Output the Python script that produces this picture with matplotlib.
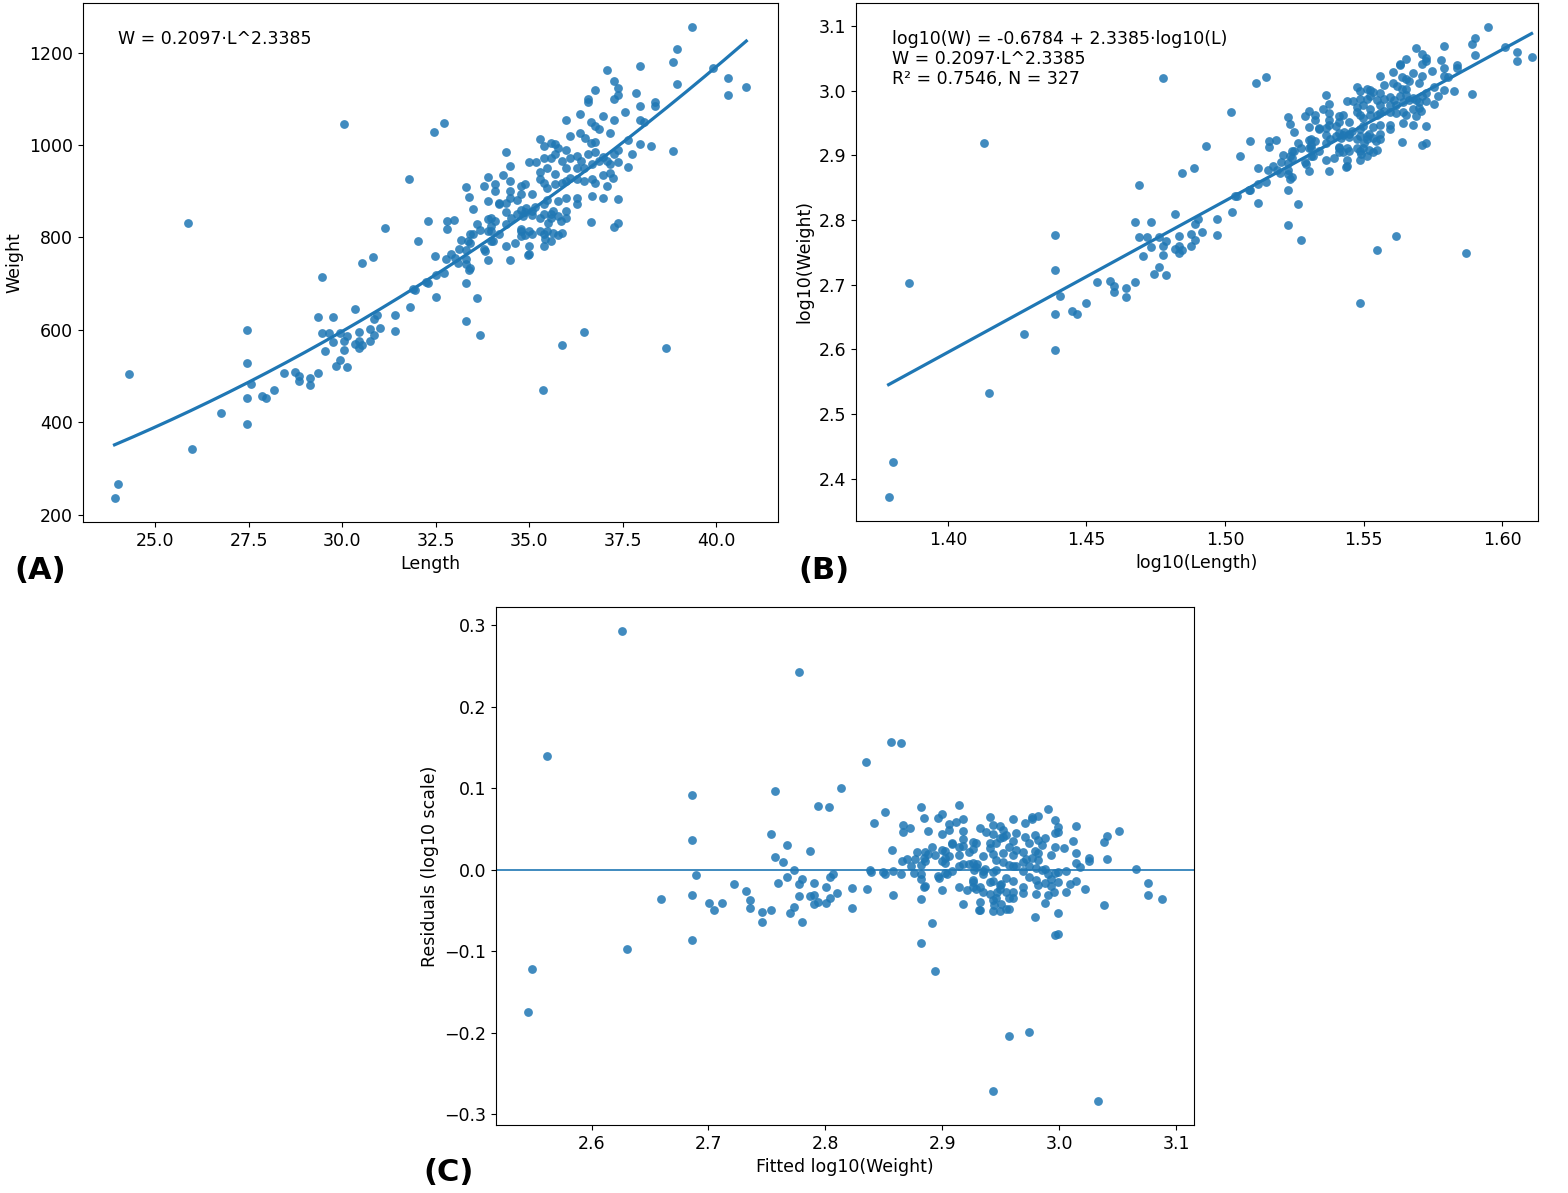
import matplotlib
matplotlib.use("Agg")
import matplotlib.pyplot as plt
import numpy as np

# length / weight pairs
length = [23.91, 23.99, 24.31, 25.88, 25.99, 26.76, 27.45, 27.45, 27.45, 27.45,
          27.56, 27.85, 27.96, 28.17, 28.44, 28.73, 28.84, 28.84, 29.13, 29.13,
          29.34, 29.34, 29.45, 29.45, 29.64, 29.74, 29.53, 29.74, 29.93, 30.04,
          30.04, 29.93, 29.82, 30.12, 30.12, 30.33, 30.33, 30.44, 30.44, 30.44,
          30.52, 30.73, 30.73, 30.84, 30.84, 30.92, 31.02, 31.42, 31.42, 31.82,
          31.93, 32.25, 30.52, 30.81, 30.04, 31.79, 31.13, 32.01, 32.30, 32.49,
          32.30, 32.51, 31.90, 32.46, 32.73, 32.73, 32.51, 33.31, 33.39, 33.31,
          33.10, 33.61, 33.31, 33.69, 35.87, 36.46, 35.37, 38.64, 33.90, 34.49,
          39.34, 38.94, 38.83, 39.92, 40.32, 40.80, 40.32, 38.94, 37.95, 37.07,
          37.26, 37.36, 37.36, 37.26, 36.75, 36.56, 36.56, 37.84, 38.35, 38.35,
          37.95, 37.55, 37.95, 38.06, 37.26, 36.96, 36.35, 35.98, 36.64, 36.75,
          36.86, 37.15, 37.63, 37.95, 38.24, 38.83, 37.74, 37.63, 37.36, 37.36,
          37.26, 36.08, 35.29, 35.39, 35.68, 35.98, 36.35, 36.48, 36.64, 36.75,
          34.38, 34.49, 35.00, 35.18, 35.39, 35.58, 35.68, 35.87, 36.08, 36.27,
          36.38, 36.56, 36.75, 36.96, 37.07, 37.15, 36.86, 36.67, 36.46, 36.27,
          35.98, 35.68, 35.47, 35.29, 33.90, 34.30, 34.49, 34.09, 33.79, 33.31,
          33.39, 34.09, 33.90, 33.50, 34.19, 34.38, 34.49, 34.67, 34.78, 34.89,
          34.78, 35.07, 35.29, 35.39, 35.47, 35.68, 35.87, 35.98, 36.08, 36.27,
          36.46, 36.67, 36.75, 36.96, 37.15, 37.23, 37.07, 36.67, 36.96, 37.36,
          35.98, 36.27, 36.27, 35.76, 35.47, 35.39, 35.07, 34.89, 34.78, 34.67,
          35.07, 35.39, 35.58, 35.76, 35.98, 35.98, 35.58, 35.29, 36.64, 37.36,
          37.26, 34.38, 34.19, 33.90, 33.98, 34.09, 33.90, 33.98, 34.19, 33.61,
          33.50, 32.81, 32.99, 32.81, 32.91, 33.18, 33.42, 33.31, 33.13, 33.02,
          33.42, 33.79, 33.98, 34.38, 34.62, 34.78, 34.89, 35.00, 35.07, 35.00,
          35.00, 35.29, 35.39, 35.47, 35.39, 35.58, 35.76, 35.87, 33.31, 33.42,
          32.78, 33.37, 33.82, 34.03, 34.97, 34.78, 35.42, 34.49, 35.15, 34.91,
          34.83, 34.51, 34.38, 33.98, 33.69, 34.78, 35.50, 35.85, 35.63, 35.63,
          35.58, 35.76]

weight = [235, 267, 504, 831, 341, 421, 599, 528, 452, 397,
          482, 456, 452, 469, 506, 508, 499, 489, 495, 480,
          506, 627, 714, 593, 593, 627, 554, 573, 593, 575,
          556, 534, 521, 519, 586, 645, 569, 595, 575, 560,
          567, 601, 575, 588, 623, 632, 604, 632, 597, 649,
          686, 703, 745, 758, 1046, 927, 820, 792, 836, 760,
          701, 718, 688, 1029, 1048, 723, 671, 701, 729, 742,
          745, 669, 619, 588, 567, 595, 469, 560, 751, 751,
          1256, 1207, 1180, 1167, 1146, 1126, 1109, 1133, 1170, 1163,
          1139, 1124, 1109, 1100, 1118, 1100, 1094, 1113, 1094, 1085,
          1085, 1072, 1055, 1050, 1055, 1063, 1068, 1055, 1050, 1042,
          1035, 1026, 1011, 1003, 998, 987, 981, 953, 964, 990,
          981, 1020, 1013, 998, 1003, 990, 1026, 1016, 1005, 1007,
          985, 955, 964, 964, 972, 972, 981, 966, 972, 977,
          966, 981, 985, 974, 966, 959, 966, 959, 951, 951,
          951, 938, 951, 942, 931, 935, 922, 916, 912, 909,
          888, 901, 879, 862, 875, 875, 885, 881, 912, 916,
          894, 894, 927, 918, 907, 916, 918, 922, 929, 927,
          922, 927, 918, 935, 940, 929, 912, 890, 885, 883,
          885, 885, 872, 879, 881, 872, 857, 855, 859, 851,
          849, 851, 851, 846, 857, 842, 842, 842, 833, 831,
          823, 855, 872, 840, 842, 836, 814, 814, 807, 829,
          807, 836, 838, 818, 764, 794, 788, 773, 775, 755,
          807, 775, 792, 781, 788, 814, 805, 814, 807, 781,
          764, 814, 807, 814, 781, 792, 805, 810, 753, 734,
          753, 792, 771, 792, 762, 803, 797, 901, 866, 864,
          846, 842, 829, 825, 816, 818, 831, 836, 857, 810,
          1005, 994]

# fit reported on the chart
intercept = -0.6784
slope = 2.3385
r2 = 0.7546
n_fish = 327

logL = np.log10(length)
logW = np.log10(weight)
fitted = intercept + slope * logL
resid = logW - fitted
a = 10 ** intercept

blue = '#1f77b4'
plt.rcParams['font.size'] = 12.5

fig = plt.figure(figsize=(15.68, 11.93), dpi=100)

# (A) raw length-weight
axA = fig.add_axes([0.0529, 0.5624, 0.4432, 0.435])
axA.scatter(length, weight, s=40, color=blue, alpha=0.85, linewidths=0)
Lgrid = np.linspace(min(length), max(length), 200)
axA.plot(Lgrid, a * Lgrid ** slope, color=blue, lw=2.3)
axA.set_xlabel("Length")
axA.set_ylabel("Weight")
axA.text(0.05, 0.949, "W = %.4f\u00b7L^%.4f" % (a, slope),
         transform=axA.transAxes, va='top')

# (B) log-log
axB = fig.add_axes([0.5459, 0.5633, 0.435, 0.4342])
axB.scatter(logL, logW, s=40, color=blue, alpha=0.85, linewidths=0)
xg = np.linspace(logL.min(), logL.max(), 100)
axB.plot(xg, intercept + slope * xg, color=blue, lw=2.3)
axB.set_xlim(1.3668, 1.613)
axB.set_xlabel("log10(Length)")
axB.set_ylabel("log10(Weight)")
txt = ("log10(W) = %.4f + %.4f\u00b7log10(L)\n" % (intercept, slope) +
       "W = %.4f\u00b7L^%.4f\n" % (a, slope) +
       "R\u00b2 = %.4f, N = %d" % (r2, n_fish))
axB.text(0.053, 0.948, txt, transform=axB.transAxes, va='top', linespacing=1.15)

# (C) residuals
axC = fig.add_axes([0.3163, 0.0570, 0.4452, 0.4342])
axC.scatter(fitted, resid, s=40, color=blue, alpha=0.85, linewidths=0)
axC.axhline(0, color=blue, lw=1.2)
axC.set_xlabel("Fitted log10(Weight)")
axC.set_ylabel("Residuals (log10 scale)")

# panel tags
fig.text(0.009, 0.522, "(A)", fontsize=22, fontweight='bold', va='center')
fig.text(0.509, 0.522, "(B)", fontsize=22, fontweight='bold', va='center')
fig.text(0.270, 0.0176, "(C)", fontsize=22, fontweight='bold', va='center')

fig.savefig("out.png", dpi=100)
